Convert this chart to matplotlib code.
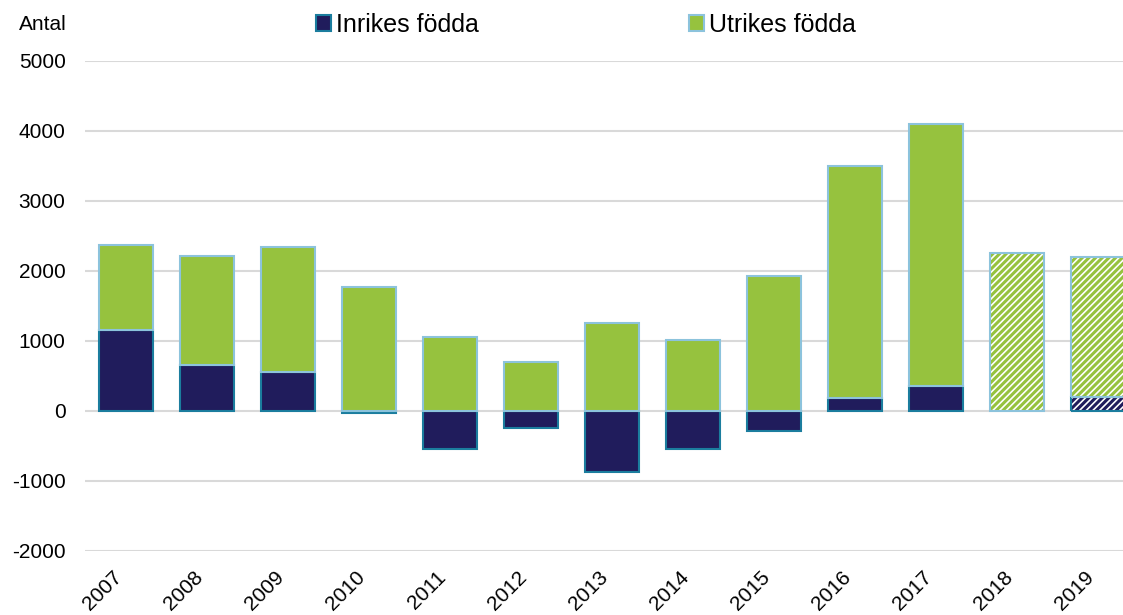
import numpy as np
import matplotlib.pyplot as plt
from matplotlib.patches import Patch

plt.rcParams['font.family'] = ['Liberation Sans', 'DejaVu Sans']
plt.rcParams['axes.unicode_minus'] = False
plt.rcParams['hatch.linewidth'] = 2.2

# data (antal)
years = ['2007', '2008', '2009', '2010', '2011', '2012', '2013',
         '2014', '2015', '2016', '2017', '2018', '2019']
inrikes = [1160, 660, 560, -30, -550, -240, -870, -540, -290, 180, 360, 0, 200]
utrikes = [1210, 1550, 1780, 1770, 1060, 700, 1250, 1020, 1930, 3320, 3740, 2260, 2000]
prognos = [False] * 11 + [True, True]   # 2018, 2019 streckade

navy = '#201c5c'
navy_edge = '#1b7d9e'
green = '#96c23e'
green_edge = '#8cc3dc'

fig = plt.figure(figsize=(11.23, 6.15), dpi=100)
ax = fig.add_axes([85 / 1123, 1 - 551 / 615, 1038 / 1123, 490 / 615])

x = np.arange(len(years))
w = 0.667
inr = np.array(inrikes, dtype=float)
utr = np.array(utrikes, dtype=float)
bott = np.maximum(inr, 0)

for i in x:
    if prognos[i]:
        # streckade staplar
        if inr[i] != 0:
            ax.bar(i, inr[i], w, color='white', edgecolor=navy, hatch='/////', linewidth=0, zorder=3)
            ax.bar(i, inr[i], w, fill=False, edgecolor=navy_edge, linewidth=1.5, zorder=4)
        ax.bar(i, utr[i], w, bottom=bott[i], color='white', edgecolor=green, hatch='/////', linewidth=0, zorder=3)
        ax.bar(i, utr[i], w, bottom=bott[i], fill=False, edgecolor=green_edge, linewidth=1.5, zorder=4)
    else:
        ax.bar(i, inr[i], w, color=navy, edgecolor=navy_edge, linewidth=1.5, zorder=3)
        ax.bar(i, utr[i], w, bottom=bott[i], color=green, edgecolor=green_edge, linewidth=1.5, zorder=3)

ax.set_xlim((85 - 126) / 81, (1123 - 126) / 81)
ax.set_ylim(-2000, 5000)
ax.set_yticks(range(-2000, 5001, 1000))
ax.yaxis.grid(True, color='#d9d9d9', linewidth=1.5, zorder=0)
ax.set_axisbelow(True)
for s in ax.spines.values():
    s.set_visible(False)
ax.tick_params(axis='both', length=0, labelsize=15, colors='black')
ax.tick_params(axis='y', pad=14)
ax.tick_params(axis='x', pad=12)

ax.set_xticks(x)
ax.set_xticklabels(years, rotation=45, ha='right', va='top')

fig.text(19 / 1123, 1 - 25 / 615, 'Antal', fontsize=15, va='center', ha='left')

handles = [Patch(facecolor=navy, edgecolor=navy_edge, linewidth=1.5, label='Inrikes födda'),
           Patch(facecolor=green, edgecolor=green_edge, linewidth=1.5, label='Utrikes födda')]
fig.legend(handles=handles, loc='center left', bbox_to_anchor=(316 / 1123, 1 - 25 / 615),
           ncol=2, frameon=False, fontsize=18, handlelength=0.6, handleheight=0.6,
           handletextpad=0.2, columnspacing=8.4, borderpad=0, borderaxespad=0)

fig.savefig('out.png', dpi=100)
